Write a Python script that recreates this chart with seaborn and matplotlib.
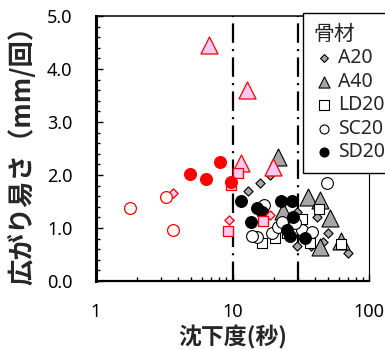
import matplotlib
matplotlib.use("Agg")
import matplotlib.pyplot as plt
from matplotlib.ticker import MultipleLocator, FixedLocator, NullFormatter, FormatStrFormatter
import seaborn as sns

# 骨材ごとの沈下度(秒)と広がり易さ(mm/回)
a20_x = [12.9, 15.8, 18.7, 29.5, 41.4, 49.8, 45.8, 29.5, 37.4, 69.7]
a20_y = [1.70, 1.85, 2.00, 1.30, 1.21, 0.91, 0.74, 0.66, 0.66, 0.53]
a40_x = [21.4, 23.3, 35.6, 43.5, 51.5, 43.5, 62.0]
a40_y = [2.34, 1.32, 1.58, 1.53, 1.19, 0.64, 0.75]
ld20_x = [16.4, 20.4, 25.0, 32.1, 42.8, 62.0, 36.7]
ld20_y = [0.72, 0.81, 0.91, 1.17, 1.36, 0.70, 0.72]
sc20_x = [48.9, 16.9, 15.1, 13.8, 19.4, 21.4, 22.9, 32.1, 38.0, 28.5]
sc20_y = [1.85, 1.43, 0.83, 0.85, 0.91, 1.02, 1.11, 0.96, 0.92, 1.09]
sd20_x = [11.5, 15.1, 16.4, 13.6, 22.6, 27.2, 27.7, 25.0, 26.3, 33.8]
sd20_y = [1.51, 1.38, 1.30, 1.11, 1.51, 1.51, 1.21, 0.96, 0.85, 0.81]

# 赤枠で示す点
a20_red_x = [3.66, 9.40, 18.7]
a20_red_y = [1.66, 1.15, 1.25]
a40_red_x = [6.71, 12.7, 11.5, 19.7]
a40_red_y = [4.45, 3.60, 2.23, 2.15]
ld20_red_x = [9.80, 10.9, 9.24, 16.7]
ld20_red_y = [1.81, 2.04, 0.94, 1.13]
sc20_red_x = [1.77, 3.25, 3.66]
sc20_red_y = [1.38, 1.58, 0.96]
sd20_red_x = [4.87, 6.38, 8.07, 9.67]
sd20_red_y = [2.02, 1.92, 2.25, 1.86]

boundaries = [10, 30]
legend_labels = ["A20", "A40", "LD20", "SC20", "SD20"]
legend_title = "骨材"
x_label = "沈下度(秒)"
y_label = "広がり易さ（mm/回）"

sns.set_style("ticks")
plt.rcParams["font.family"] = ["Noto Sans", "Noto Sans CJK JP", "DejaVu Sans"]
plt.rcParams["lines.scale_dashes"] = False

GRAY = "#a6a6a6"
PINK = "#fcc8f4"
RED = "#ff0000"
CJK = ["Noto Sans CJK JP", "DejaVu Sans"]

fig = plt.figure(figsize=(3.85, 3.5), dpi=100)
ax = fig.add_axes([96 / 385, 1 - 281 / 350, 273 / 385, 265 / 350])

# 境界線
for b in boundaries:
    ax.axvline(b, color="black", lw=1.6, linestyle=(0, (14, 4.5, 1.5, 4.5)), zorder=1)

styles = [
    ("D", 22, GRAY, "black"),
    ("^", 150, GRAY, "black"),
    ("s", 60, "white", "black"),
    ("o", 72, "white", "black"),
    ("o", 72, "black", "black"),
]
groups = [(a20_x, a20_y), (a40_x, a40_y), (ld20_x, ld20_y), (sc20_x, sc20_y), (sd20_x, sd20_y)]
for (gx, gy), (m, s, fc, ec), lab in zip(groups, styles, legend_labels):
    sns.scatterplot(x=gx, y=gy, marker=m, s=s, color=fc, edgecolor=ec,
                    linewidth=0.8, ax=ax, label=lab, zorder=3)

red_styles = [
    ("D", 22, PINK, RED),
    ("^", 150, PINK, RED),
    ("s", 60, PINK, RED),
    ("o", 72, "white", RED),
    ("o", 72, RED, RED),
]
red_groups = [(a20_red_x, a20_red_y), (a40_red_x, a40_red_y), (ld20_red_x, ld20_red_y),
              (sc20_red_x, sc20_red_y), (sd20_red_x, sd20_red_y)]
for (gx, gy), (m, s, fc, ec) in zip(red_groups, red_styles):
    sns.scatterplot(x=gx, y=gy, marker=m, s=s, color=fc, edgecolor=ec,
                    linewidth=0.9, ax=ax, zorder=4)

ax.set_xscale("log")
ax.set_xlim(1, 100)
ax.set_ylim(0, 5)
ax.set_xticks([1, 10, 100])
ax.set_xticklabels(["1", "10", "100"])
ax.xaxis.set_minor_locator(FixedLocator([k * d for d in (1, 10) for k in range(2, 10)]))
ax.xaxis.set_minor_formatter(NullFormatter())
ax.yaxis.set_major_locator(MultipleLocator(1))
ax.yaxis.set_minor_locator(MultipleLocator(0.2))
ax.yaxis.set_major_formatter(FormatStrFormatter("%.1f"))

ax.tick_params(axis="both", which="both", direction="in", top=False, right=False,
               labelsize=13, color="black", labelcolor="black")
ax.tick_params(axis="x", which="major", length=5, width=1, pad=16)
ax.tick_params(axis="x", which="minor", length=3, width=1)
ax.tick_params(axis="y", which="major", length=5, width=1, pad=17)
ax.tick_params(axis="y", which="minor", length=3, width=1)

for side, lw in (("left", 2.2), ("bottom", 1.6), ("top", 1.1), ("right", 0.8)):
    ax.spines[side].set_visible(True)
    ax.spines[side].set_color("black")
    ax.spines[side].set_linewidth(lw)

ax.set_xlabel(x_label, fontsize=16.5, fontweight="bold", family=CJK, va="center")
ax.xaxis.set_label_coords(0.5, (281 - 337) / 265)
ax.set_ylabel(y_label, fontsize=19, fontweight="bold", family=CJK, va="center", ha="center")
ax.yaxis.set_label_coords((22 - 96) / 273, 0.5)

handles = ax.collections[:5]
leg = ax.legend(handles, legend_labels, title=legend_title, loc="upper left",
                bbox_to_anchor=(0.758, 1.011), borderaxespad=0, frameon=True,
                fancybox=False, edgecolor="black", framealpha=1, fontsize=14,
                title_fontsize=15, alignment="left", handletextpad=0.15,
                handlelength=1.1, labelspacing=0.18, borderpad=0.55, scatterpoints=1)
leg.get_frame().set_linewidth(1.0)
leg.set_zorder(10)
leg.set_clip_on(False)
for h, s in zip(leg.legend_handles, [16, 64, 42, 42, 42]):
    h.set_sizes([s])

fig.savefig("out.png", dpi=100)
